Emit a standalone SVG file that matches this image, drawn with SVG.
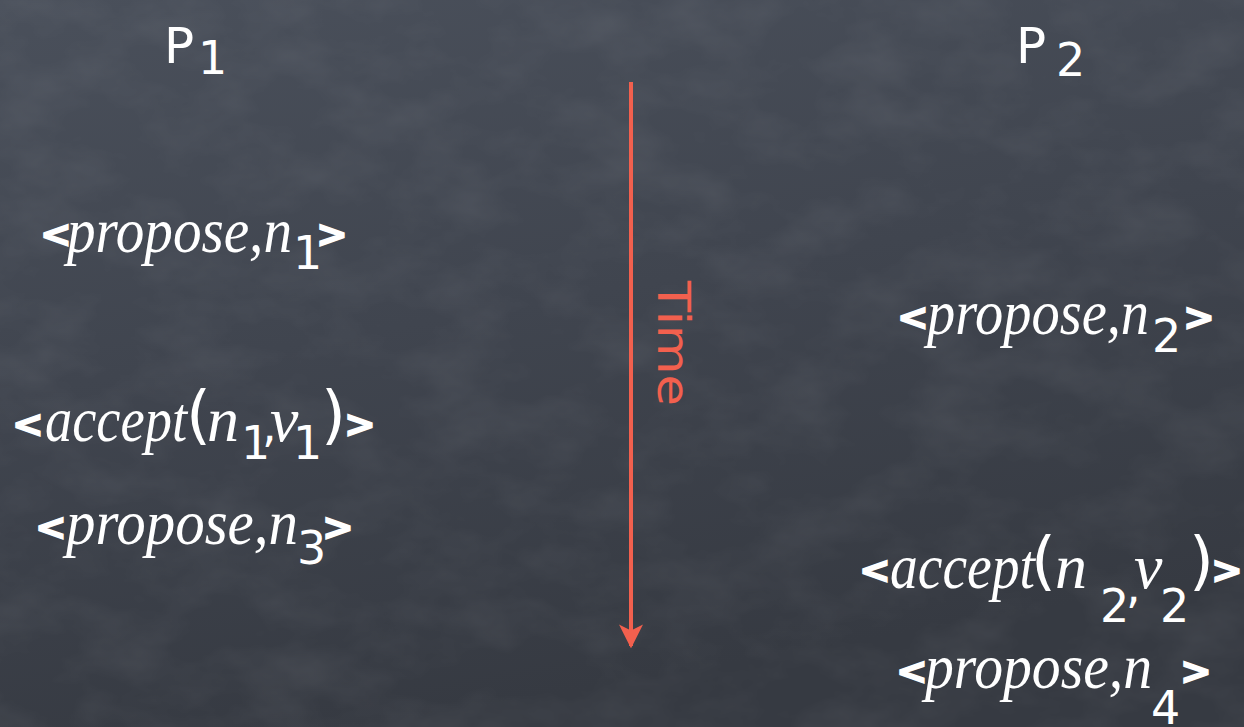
<svg xmlns="http://www.w3.org/2000/svg" width="1244" height="727" viewBox="0 0 1244 727">
  <defs>
    <linearGradient id="bg" x1="0" y1="0" x2="0.3" y2="1">
      <stop offset="0" stop-color="#4a505b"/>
      <stop offset="0.5" stop-color="#40454f"/>
      <stop offset="1" stop-color="#363a42"/>
    </linearGradient>
    <filter id="grain" x="0" y="0" width="100%" height="100%">
      <feTurbulence type="fractalNoise" baseFrequency="0.012 0.02" numOctaves="4" seed="7"/>
      <feColorMatrix type="matrix" values="0 0 0 0 1  0 0 0 0 1  0 0 0 0 1  0.9 0 0 0 -0.35"/>
    </filter>
    <marker id="head" viewBox="0 0 10 10" refX="9" refY="5" markerWidth="6" markerHeight="6" orient="auto" markerUnits="strokeWidth">
      <path d="M0,0 L10,5 L0,10 L2.5,5 Z" fill="#f2604e"/>
    </marker>
    <style>
      text { fill: #ffffff; }
      .it { font-size: 64px; }
      .br { font-size: 38px; font-weight: bold; stroke: #ffffff; stroke-width: 1.6px; }
      .sub { font-size: 46px; }
      .par { font-size: 64px; }
      .proc { font-size: 50px; }
      .time { font-size: 44px; fill: #f2604e; }
    </style>
  </defs>

  <rect width="1244" height="727" fill="url(#bg)"/>
  <rect width="1244" height="727" filter="url(#grain)" opacity="0.12"/>

  <g id="p1" font-family="DejaVu Sans, sans-serif">
    <text class="proc" x="164" y="63">P</text>
    <text class="sub" x="198" y="74">1</text>
  </g>
  <g id="p2" font-family="DejaVu Sans, sans-serif">
    <text class="proc" x="1016" y="63">P</text>
    <text class="sub" x="1056" y="76">2</text>
  </g>

  <g id="connectors">
    <line x1="631" y1="82" x2="631" y2="646" stroke="#f2604e" stroke-width="4" marker-end="url(#head)"/>
    <text class="time" font-family="DejaVu Sans, sans-serif" transform="translate(658,281) rotate(90)" textLength="125" lengthAdjust="spacingAndGlyphs">Time</text>
  </g>

  <g id="p1-propose-n1" font-family="DejaVu Sans, sans-serif">
    <text class="br" x="40" y="247">&lt;</text>
    <text class="it" font-family="Liberation Serif, serif" font-style="italic" x="67" y="252" textLength="225" lengthAdjust="spacingAndGlyphs">propose,n</text>
    <text class="sub" x="293" y="269">1</text>
    <text class="br" x="316" y="247">&gt;</text>
  </g>

  <g id="p1-accept-n1-v1" font-family="DejaVu Sans, sans-serif">
    <text class="br" x="12" y="437">&lt;</text>
    <text class="it" font-family="Liberation Serif, serif" font-style="italic" x="45" y="441" textLength="142" lengthAdjust="spacingAndGlyphs">accept</text>
    <text class="par" x="186" y="437">(</text>
    <text class="it" font-family="Liberation Serif, serif" font-style="italic" x="207" y="441">n</text>
    <text class="sub" x="241" y="459">1</text>
    <text class="sub" x="262" y="442">,</text>
    <text class="it" font-family="Liberation Serif, serif" font-style="italic" x="270" y="441">v</text>
    <text class="sub" x="293" y="459">1</text>
    <text class="par" x="321" y="437">)</text>
    <text class="br" x="344" y="437">&gt;</text>
  </g>

  <g id="p1-propose-n3" font-family="DejaVu Sans, sans-serif">
    <text class="br" x="35" y="540">&lt;</text>
    <text class="it" font-family="Liberation Serif, serif" font-style="italic" x="66" y="544" textLength="232" lengthAdjust="spacingAndGlyphs">propose,n</text>
    <text class="sub" x="297" y="564">3</text>
    <text class="br" x="322" y="540">&gt;</text>
  </g>

  <g id="p2-propose-n2" font-family="DejaVu Sans, sans-serif">
    <text class="br" x="897" y="330">&lt;</text>
    <text class="it" font-family="Liberation Serif, serif" font-style="italic" x="927" y="334" textLength="222" lengthAdjust="spacingAndGlyphs">propose,n</text>
    <text class="sub" x="1152" y="352">2</text>
    <text class="br" x="1183" y="330">&gt;</text>
  </g>

  <g id="p2-accept-n2-v2" font-family="DejaVu Sans, sans-serif">
    <text class="br" x="859" y="583">&lt;</text>
    <text class="it" font-family="Liberation Serif, serif" font-style="italic" x="890" y="588" textLength="145" lengthAdjust="spacingAndGlyphs">accept</text>
    <text class="par" x="1031" y="583">(</text>
    <text class="it" font-family="Liberation Serif, serif" font-style="italic" x="1055" y="588">n</text>
    <text class="sub" x="1100" y="622">2</text>
    <text class="sub" x="1126" y="603">,</text>
    <text class="it" font-family="Liberation Serif, serif" font-style="italic" x="1134" y="588">v</text>
    <text class="sub" x="1160" y="622">2</text>
    <text class="par" x="1189" y="583">)</text>
    <text class="br" x="1211" y="583">&gt;</text>
  </g>

  <g id="p2-propose-n4" font-family="DejaVu Sans, sans-serif">
    <text class="br" x="896" y="684">&lt;</text>
    <text class="it" font-family="Liberation Serif, serif" font-style="italic" x="925" y="688" textLength="227" lengthAdjust="spacingAndGlyphs">propose,n</text>
    <text class="sub" x="1151" y="724">4</text>
    <text class="br" x="1180" y="684">&gt;</text>
  </g>
</svg>
